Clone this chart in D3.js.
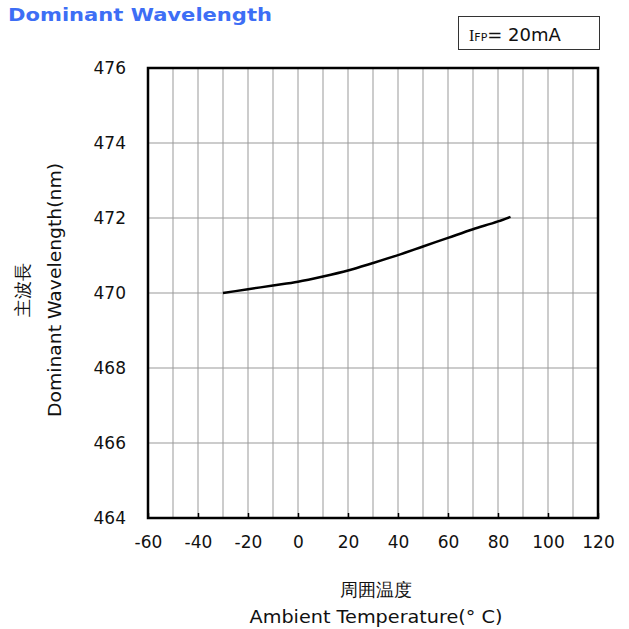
<!DOCTYPE html>
<html>
<head>
<meta charset="utf-8">
<script src="https://cdn.jsdelivr.net/npm/d3@7"></script>
<style>
  body { margin: 0; background: #fff; }
  text { font-family: "DejaVu Sans", Verdana, sans-serif; }
</style>
</head>
<body>
<script>
// curve
let temps = [-30, -20, -10, 0, 10, 20, 30, 40, 50, 60, 70, 80, 85]
let waves = [470.0, 470.1, 470.2, 470.3, 470.44, 470.6, 470.8, 471.01, 471.24, 471.47, 471.7, 471.91, 472.03]

let xTicks = [-60, -40, -20, 0, 20, 40, 60, 80, 100, 120]
let yTicks = [464, 466, 468, 470, 472, 474, 476]

let svg = d3.select("body")
    .append("svg")
    .attr("width", 629)
    .attr("height", 629)

let x = d3.scaleLinear().domain([-60, 120]).range([148, 598])
let y = d3.scaleLinear().domain([464, 476]).range([518, 68])

// title
svg.append("text")
    .attr("x", 8)
    .attr("y", 21)
    .attr("font-size", 18.5)
    .attr("font-weight", "bold")
    .attr("fill", "#3d6ef5")
    .attr("textLength", 264)
    .attr("lengthAdjust", "spacingAndGlyphs")
    .text("Dominant Wavelength")

// condition box
svg.append("rect")
    .attr("x", 458.5).attr("y", 16.5)
    .attr("width", 141).attr("height", 33)
    .attr("fill", "none").attr("stroke", "#333").attr("stroke-width", 1)
let cond = svg.append("text").attr("x", 469).attr("y", 41).attr("font-size", 18).attr("fill", "#111")
cond.append("tspan").attr("font-family", "Liberation Serif").attr("font-size", 16).text("I")
cond.append("tspan").attr("font-size", 11).text("FP")
cond.append("tspan").text("= 20mA")

// grid
svg.append("g")
    .selectAll("line")
    .data(d3.range(-50, 120, 10))
    .enter().append("line")
    .attr("x1", d => x(d)).attr("x2", d => x(d))
    .attr("y1", y(464)).attr("y2", y(476))
    .attr("stroke", "#999").attr("stroke-width", 1)

svg.append("g")
    .selectAll("line")
    .data(yTicks.slice(1, -1))
    .enter().append("line")
    .attr("x1", x(-60)).attr("x2", x(120))
    .attr("y1", d => y(d)).attr("y2", d => y(d))
    .attr("stroke", "#999").attr("stroke-width", 1)

// bottom axis, ticks pointing inward
let xAxis = svg.append("g")
    .attr("transform", "translate(0," + y(464) + ")")
    .call(d3.axisBottom(x).tickValues(xTicks).tickSize(-5).tickPadding(18).tickFormat(d => String(d)))
xAxis.select(".domain").remove()
xAxis.selectAll("line").attr("stroke", "#000").attr("stroke-width", 1.5)
xAxis.selectAll("text").attr("font-size", 17).attr("fill", "#111")
    .attr("font-family", "DejaVu Sans")

let yAxis = svg.append("g")
    .attr("transform", "translate(" + x(-60) + ",0)")
    .call(d3.axisLeft(y).tickValues(yTicks).tickSize(0).tickPadding(22))
yAxis.select(".domain").remove()
yAxis.selectAll("text").attr("font-size", 17).attr("fill", "#111")
    .attr("font-family", "DejaVu Sans")

// frame
svg.append("rect")
    .attr("x", x(-60)).attr("y", y(476))
    .attr("width", x(120) - x(-60)).attr("height", y(464) - y(476))
    .attr("fill", "none").attr("stroke", "#000").attr("stroke-width", 2.5)

// curve
let line = d3.line()
    .x((d, i) => x(temps[i]))
    .y(d => y(d))
    .curve(d3.curveMonotoneX)

svg.append("path")
    .attr("d", line(waves))
    .attr("fill", "none")
    .attr("stroke", "#000")
    .attr("stroke-width", 2.5)

// axis labels
svg.append("text")
    .attr("transform", "translate(29,290) rotate(-90)")
    .attr("text-anchor", "middle")
    .attr("font-size", 18)
    .attr("fill", "#111")
    .attr("font-family", "Noto Sans CJK JP")
    .text("主波長")

svg.append("text")
    .attr("transform", "translate(61,290) rotate(-90)")
    .attr("text-anchor", "middle")
    .attr("font-size", 18)
    .attr("fill", "#111")
    .attr("textLength", 254)
    .attr("lengthAdjust", "spacingAndGlyphs")
    .text("Dominant Wavelength(nm)")

svg.append("text")
    .attr("x", 376).attr("y", 596)
    .attr("text-anchor", "middle")
    .attr("font-size", 18)
    .attr("fill", "#111")
    .attr("font-family", "Noto Sans CJK JP")
    .text("周囲温度")

svg.append("text")
    .attr("x", 376).attr("y", 623)
    .attr("text-anchor", "middle")
    .attr("font-size", 18)
    .attr("fill", "#111")
    .attr("textLength", 253)
    .attr("lengthAdjust", "spacingAndGlyphs")
    .text("Ambient Temperature(° C)")
</script>
</body>
</html>
